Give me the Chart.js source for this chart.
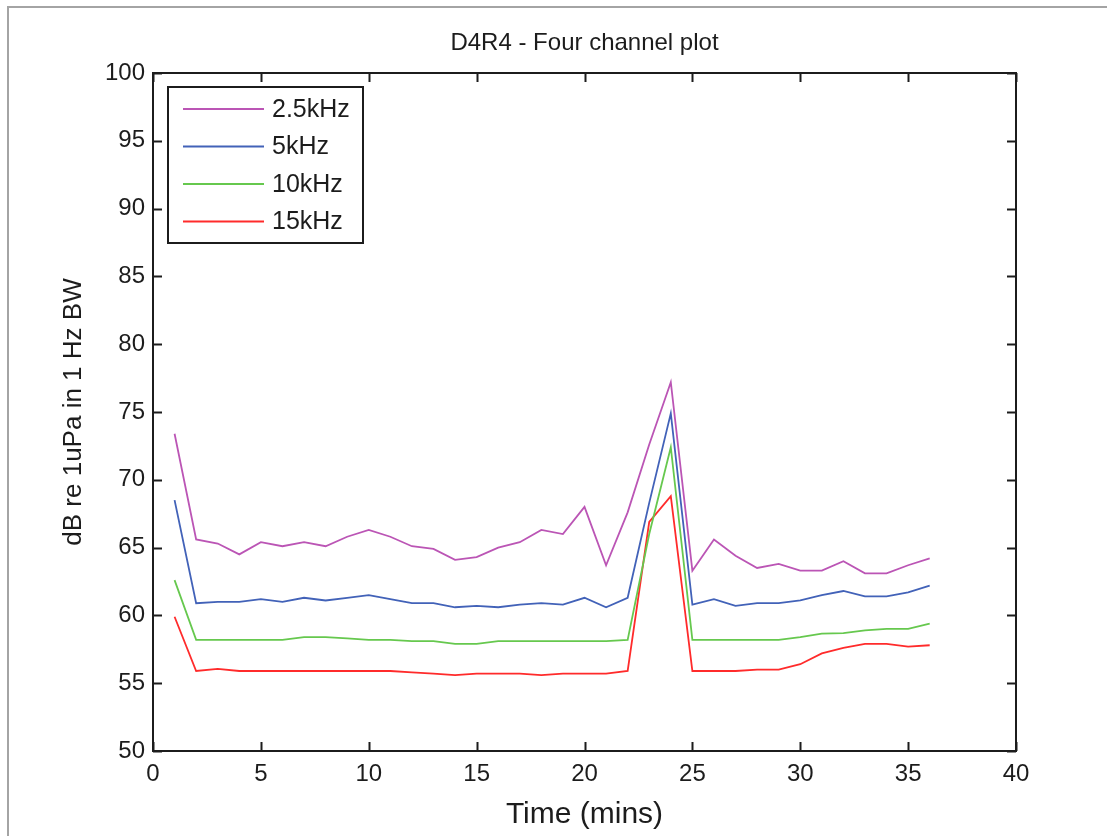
<!DOCTYPE html>
<html lang="en">
<head>
    <meta charset="UTF-8">
    <title>D4R4 - Four channel plot</title>
    <script src="https://cdn.jsdelivr.net/npm/chart.js"></script>
    <style>
        body { margin: 0; background: #fff; }
        #wrap { width: 1107px; height: 836px; }
    </style>
</head>
<body>
    <div id="wrap">
        <canvas id="plot" width="1107" height="836"></canvas>
    </div>

    <script>
        // Time axis (minutes) and band levels in dB re 1uPa in 1 Hz BW
        const times = [1, 2, 3, 4, 5, 6, 7, 8, 9, 10, 11, 12, 13, 14, 15, 16, 17, 18,
                       19, 20, 21, 22, 23, 24, 25, 26, 27, 28, 29, 30, 31, 32, 33, 34, 35, 36];
        const band2_5k = [73.4, 65.6, 65.3, 64.5, 65.4, 65.1, 65.4, 65.1, 65.8, 66.3, 65.8, 65.1,
                          64.9, 64.1, 64.3, 65.0, 65.4, 66.3, 66.0, 68.0, 63.7, 67.6, 72.6, 77.2,
                          63.3, 65.6, 64.4, 63.5, 63.8, 63.3, 63.3, 64.0, 63.1, 63.1, 63.7, 64.2];
        const band5k = [68.5, 60.9, 61.0, 61.0, 61.2, 61.0, 61.3, 61.1, 61.3, 61.5, 61.2, 60.9,
                        60.9, 60.6, 60.7, 60.6, 60.8, 60.9, 60.8, 61.3, 60.6, 61.3, 68.3, 74.9,
                        60.8, 61.2, 60.7, 60.9, 60.9, 61.1, 61.5, 61.8, 61.4, 61.4, 61.7, 62.2];
        const band10k = [62.6, 58.2, 58.2, 58.2, 58.2, 58.2, 58.4, 58.4, 58.3, 58.2, 58.2, 58.1,
                         58.1, 57.9, 57.9, 58.1, 58.1, 58.1, 58.1, 58.1, 58.1, 58.2, 66.0, 72.4,
                         58.2, 58.2, 58.2, 58.2, 58.2, 58.4, 58.65, 58.7, 58.9, 59.0, 59.0, 59.4];
        const band15k = [59.9, 55.9, 56.05, 55.9, 55.9, 55.9, 55.9, 55.9, 55.9, 55.9, 55.9, 55.8,
                         55.7, 55.6, 55.7, 55.7, 55.7, 55.6, 55.7, 55.7, 55.7, 55.9, 66.9, 68.8,
                         55.9, 55.9, 55.9, 56.0, 56.0, 56.4, 57.2, 57.6, 57.9, 57.9, 57.7, 57.8];
        const seriesNames = ['2.5kHz', '5kHz', '10kHz', '15kHz'];
        const seriesColors = ['#bb55b5', '#4262b8', '#66c84e', '#ff2b2b'];

        const xTicks = { min: 0, max: 40, step: 5 };
        const yTicks = { min: 50, max: 100, step: 5 };

        const FONT = "'Liberation Sans', Arial, sans-serif";
        const INK = '#1c1c1c';

        const toPoints = vals => times.map((t, i) => ({ x: t, y: vals[i] }));

        // MATLAB-style boxed axes: inward ticks on all four sides, title, legend box
        const matlabFrame = {
            id: 'matlabFrame',
            beforeDraw(chart) {
                const ctx = chart.ctx;
                ctx.save();
                ctx.fillStyle = '#fff';
                ctx.fillRect(0, 0, chart.width, chart.height);
                // figure window edge
                ctx.strokeStyle = '#a4a4a4';
                ctx.lineWidth = 2;
                ctx.beginPath();
                ctx.moveTo(8, chart.height);
                ctx.lineTo(8, 7);
                ctx.lineTo(chart.width, 7);
                ctx.stroke();
                ctx.restore();
            },
            afterDatasetsDraw(chart) {
                const { ctx, chartArea: a, scales: { x, y } } = chart;
                ctx.save();
                ctx.strokeStyle = INK;
                ctx.lineWidth = 2;
                ctx.beginPath();
                x.ticks.forEach(t => {
                    const px = Math.round(x.getPixelForValue(t.value)) + 0.5;
                    ctx.moveTo(px, a.bottom); ctx.lineTo(px, a.bottom - 9);
                    ctx.moveTo(px, a.top); ctx.lineTo(px, a.top + 9);
                });
                y.ticks.forEach(t => {
                    const py = Math.round(y.getPixelForValue(t.value)) + 0.5;
                    ctx.moveTo(a.left, py); ctx.lineTo(a.left + 9, py);
                    ctx.moveTo(a.right, py); ctx.lineTo(a.right - 9, py);
                });
                ctx.stroke();
                ctx.strokeRect(a.left, a.top, a.right - a.left, a.bottom - a.top);

                // title
                ctx.fillStyle = INK;
                ctx.font = '24px ' + FONT;
                ctx.textAlign = 'center';
                ctx.textBaseline = 'middle';
                ctx.fillText('D4R4 - Four channel plot', (a.left + a.right) / 2, a.top - 30);

                // legend
                const bx = a.left + 15, by = a.top + 14, bw = 195, bh = 156;
                ctx.fillStyle = '#fff';
                ctx.fillRect(bx, by, bw, bh);
                ctx.lineWidth = 2;
                ctx.strokeRect(bx, by, bw, bh);
                ctx.font = '25px ' + FONT;
                ctx.textAlign = 'left';
                chart.data.datasets.forEach((ds, i) => {
                    const ry = by + 22 + i * 37.5;
                    ctx.strokeStyle = ds.borderColor;
                    ctx.lineWidth = 1.8;
                    ctx.beginPath();
                    ctx.moveTo(bx + 15, ry);
                    ctx.lineTo(bx + 96, ry);
                    ctx.stroke();
                    ctx.fillStyle = INK;
                    ctx.fillText(ds.label, bx + 104, ry + 1);
                });
                ctx.restore();
            }
        };

        const ctx = document.getElementById('plot').getContext('2d');
        const plot = new Chart(ctx, {
            type: 'line',
            data: {
                datasets: [band2_5k, band5k, band10k, band15k].map((vals, i) => ({
                    label: seriesNames[i],
                    data: toPoints(vals),
                    borderColor: seriesColors[i],
                    borderWidth: 1.8,
                    pointRadius: 0,
                    tension: 0,
                    fill: false
                }))
            },
            options: {
                responsive: false,
                animation: false,
                devicePixelRatio: 1,
                layout: { padding: { top: 73, right: 91, bottom: 0, left: 0 } },
                plugins: {
                    legend: { display: false },
                    title: { display: false },
                    tooltip: { enabled: false }
                },
                scales: {
                    x: {
                        type: 'linear',
                        min: xTicks.min,
                        max: xTicks.max,
                        grid: { display: false, drawTicks: false },
                        border: { display: false },
                        ticks: {
                            stepSize: xTicks.step,
                            autoSkip: false,
                            maxRotation: 0,
                            padding: 9,
                            color: INK,
                            font: { family: FONT, size: 24 }
                        },
                        title: {
                            display: true,
                            text: 'Time (mins)',
                            color: INK,
                            font: { family: FONT, size: 30 },
                            padding: { top: 0, bottom: 3 }
                        },
                        afterFit(s) {
                            s.height = 85;
                            s.paddingLeft = 0;
                            s.paddingRight = 0;
                        }
                    },
                    y: {
                        min: yTicks.min,
                        max: yTicks.max,
                        grid: { display: false, drawTicks: false },
                        border: { display: false },
                        ticks: {
                            stepSize: yTicks.step,
                            autoSkip: false,
                            padding: 8,
                            color: INK,
                            font: { family: FONT, size: 24 }
                        },
                        title: {
                            display: true,
                            text: 'dB re 1uPa in 1 Hz BW',
                            color: INK,
                            font: { family: FONT, size: 26 },
                            padding: { top: 58, bottom: 0 }
                        },
                        afterFit(s) {
                            s.width = 153;
                            s.paddingTop = 0;
                            s.paddingBottom = 0;
                        }
                    }
                }
            },
            plugins: [matlabFrame]
        });
    </script>
</body>
</html>
